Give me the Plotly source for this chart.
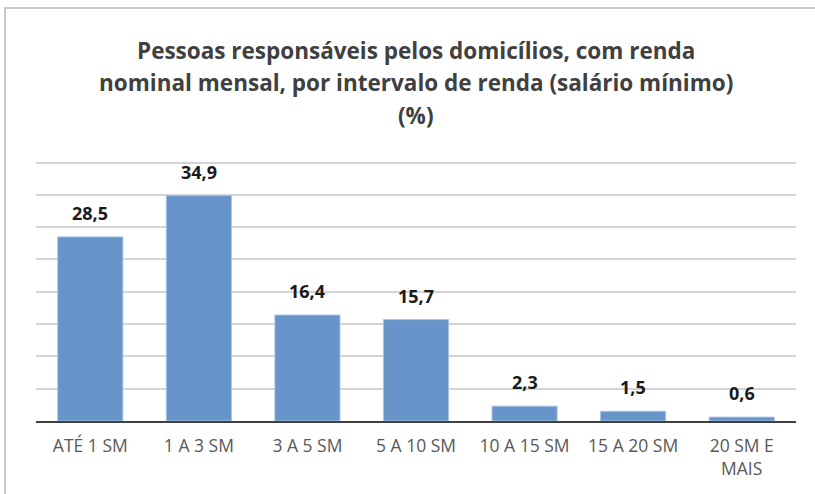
import plotly.graph_objects as go

CATEGORIES = ["ATÉ 1 SM", "1 A 3 SM", "3 A 5 SM", "5 A 10 SM", "10 A 15 SM", "15 A 20 SM", "20 SM E<br>MAIS"]
VALUES = [28.5, 34.9, 16.4, 15.7, 2.3, 1.5, 0.6]
LABELS = ["28,5", "34,9", "16,4", "15,7", "2,3", "1,5", "0,6"]

TITLE_LINES = [
    "Pessoas responsáveis pelos domicílios, com renda",
    "nominal mensal, por intervalo de renda (salário mínimo)",
    "(%)",
]

BAR = "#6795C9"
GRID = "#d4d4d4"
TEXT = "#404040"
FONT = "Open Sans, Noto Sans, sans-serif"

W, H = 815, 494
L, R, T, B = 36, 19, 160, 73
Y_MAX = 40.4
pw, ph = W - L - R, H - T - B

fig = go.Figure(
    go.Bar(
        x=CATEGORIES,
        y=VALUES,
        marker=dict(color=BAR, line=dict(color="#a9c4e6", width=1)),
        width=0.6,
    )
)

# value labels, sitting a bit higher above the bars than plotly's "outside"
for cat, val, lab in zip(CATEGORIES, VALUES, LABELS):
    fig.add_annotation(x=cat, y=val, text=lab, showarrow=False,
                       yanchor="middle", yshift=24,
                       font=dict(size=18, color="#1a1a1a", family=FONT, weight="bold"))

# title as three lines so the line spacing matches the original
for i, line in enumerate(TITLE_LINES):
    py = 50 + 33 * i
    fig.add_annotation(xref="paper", yref="paper", x=0.5, y=1 + (T - py) / ph,
                       text=line, showarrow=False, xanchor="center", yanchor="middle",
                       font=dict(size=22.5, color=TEXT, family=FONT, weight="bold"))

# light frame around the chart (top and left edges visible in the reference)
fig.add_shape(type="rect", xref="paper", yref="paper",
              x0=(5 - L) / pw, x1=(W + 10 - L) / pw,
              y0=-(B + 10) / ph, y1=1 + (T - 8) / ph,
              line=dict(color="#c8c8c8", width=2), layer="below")

fig.update_layout(
    width=W,
    height=H,
    margin=dict(l=L, r=R, t=T, b=B),
    paper_bgcolor="white",
    plot_bgcolor="white",
    font=dict(family=FONT, color=TEXT, size=14),
    showlegend=False,
    bargap=0.4,
)
fig.update_xaxes(showline=True, linecolor="#404040", linewidth=2,
                 tickfont=dict(size=17.5, color="#595959"), ticks="", showgrid=False,
                 ticklabelstandoff=8)
fig.update_yaxes(range=[0, Y_MAX], tickvals=[5, 10, 15, 20, 25, 30, 35, 40],
                 showgrid=True, gridcolor=GRID, gridwidth=1.5,
                 showticklabels=False, zeroline=False, showline=False)

fig.write_html("out.html", config={"displayModeBar": False},
               post_script="document.body.style.margin='0';")
